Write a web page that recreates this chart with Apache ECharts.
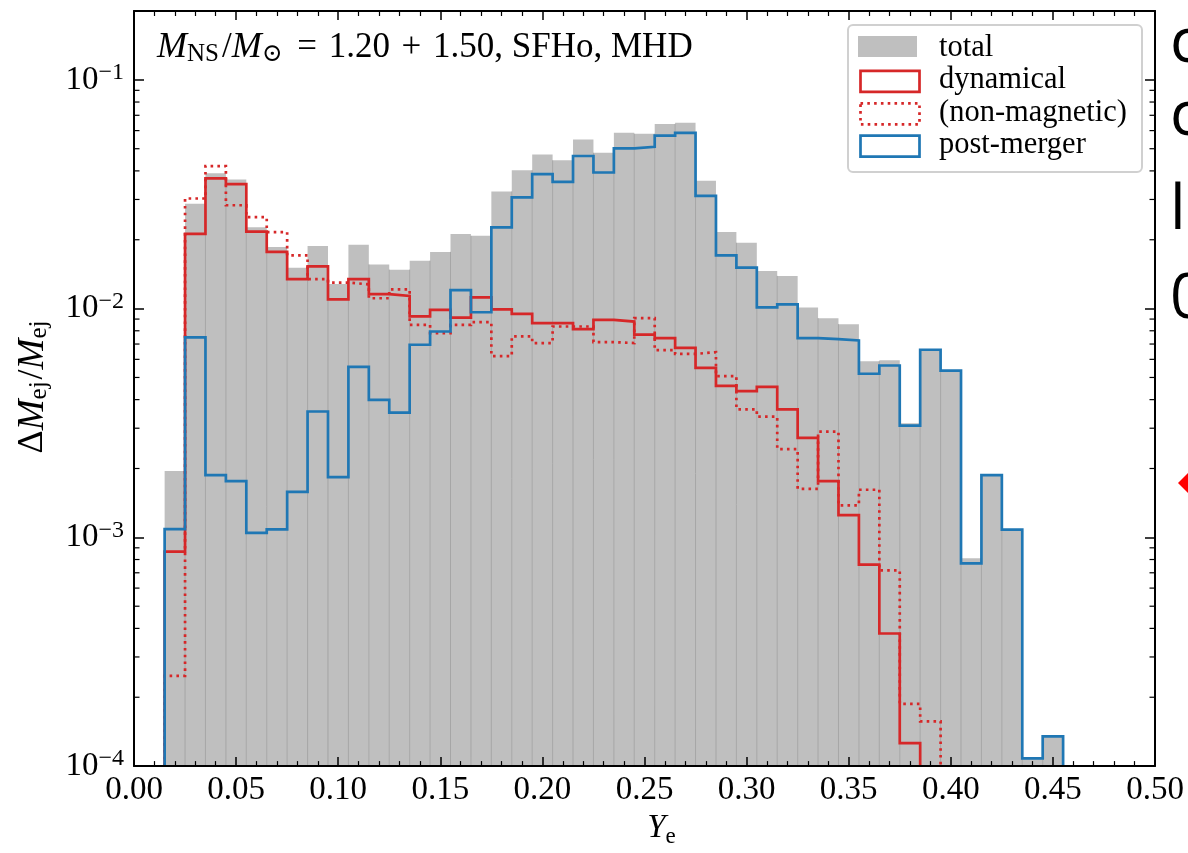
<!DOCTYPE html>
<html>
<head>
<meta charset="utf-8">
<script src="https://cdn.jsdelivr.net/npm/echarts@6/dist/echarts.min.js"></script>
<style>html,body{margin:0;padding:0;background:#fff}#c{width:1188px;height:853px}</style>
</head>
<body>
<div id="c"></div>
<script>
// ---------------- data ----------------
const binCenters = [0.02,0.03,0.04,0.05,0.06,0.07,0.08,0.09,0.10,0.11,0.12,0.13,0.14,0.15,0.16,0.17,0.18,0.19,0.20,0.21,0.22,0.23,0.24,0.25,0.26,0.27,0.28,0.29,0.30,0.31,0.32,0.33,0.34,0.35,0.36,0.37,0.38,0.39,0.40,0.41,0.42,0.43,0.44,0.45];
const binWidth = 0.01;
const total = [0.00195,0.0287,0.0391,0.0367,0.0227,0.0186,0.0151,0.0188,0.0128,0.0190,0.0156,0.0148,0.0162,0.0177,0.0212,0.0208,0.0325,0.0403,0.0472,0.0445,0.0549,0.0480,0.0587,0.0581,0.0642,0.0649,0.0362,0.0216,0.0194,0.0146,0.0139,0.0101,0.00908,0.00855,0.00589,0.00595,0.00315,0.00661,0.00536,0.00081,0.00187,0.00108,0.000108,0.000135];
const dynamical = [0.000867,0.0212,0.0371,0.0350,0.0217,0.0177,0.01346,0.01531,0.01098,0.01346,0.01158,0.01135,0.00924,0.00987,0.00914,0.0112,0.00993,0.00948,0.00864,0.00864,0.00813,0.00893,0.00878,0.00769,0.00743,0.00673,0.00551,0.00459,0.00436,0.00455,0.00363,0.00272,0.00176,0.00125,0.00076,0.00038,0.000126,0,0,0,0,0,0,0];
const nonMagnetic = [0.000248,0.0303,0.0420,0.0283,0.0251,0.0216,0.0171,0.01346,0.0130,0.01276,0.0111,0.01213,0.00849,0.00782,0.00849,0.00872,0.00620,0.00756,0.00707,0.00835,0.00835,0.00714,0.00707,0.00908,0.00658,0.00634,0.00645,0.00507,0.00363,0.00337,0.00243,0.00163,0.00290,0.00138,0.001615,0.000717,0.000187,0.000157,0,0,0,0,0,0];
const postMerger = [0.001087,0.00748,0.00187,0.00176,0.001047,0.001083,0.00158,0.00355,0.001835,0.00556,0.00399,0.00351,0.00695,0.00794,0.01205,0.00964,0.02263,0.03065,0.0387,0.0358,0.04646,0.03935,0.0502,0.0510,0.0571,0.0587,0.0311,0.0171,0.0151,0.01013,0.01044,0.00743,0.00736,0.00726,0.00519,0.00564,0.00308,0.00661,0.00536,0.00077,0.00187,0.00108,0.000108,0.000135];
const yMinorTicks = [2e-4,3e-4,4e-4,5e-4,6e-4,7e-4,8e-4,9e-4,2e-3,3e-3,4e-3,5e-3,6e-3,7e-3,8e-3,9e-3,2e-2,3e-2,4e-2,5e-2,6e-2,7e-2,8e-2,9e-2];
const legendLabels = ['total','dynamical','(non-magnetic)','post-merger'];
const xAxisTitle = ['Y','e'];
const yAxisTitle = ['Δ','M','ej','/','M','ej'];
const annotation = ['M','NS','/','M','⊙','\u2004=\u20041.20\u2004+\u20041.50, SFHo, MHD'];
const sideGlyphs = ['c','c','l','0'];

// ---------------- style ----------------
const Y_MIN = 1e-4, Y_MAX = 0.2;
const FONT = "'Liberation Serif', 'DejaVu Serif', serif";
const GRAY = '#bfbfbf', RED = '#d62728', BLUE = '#1f77b4';
const DOT = [2.6, 4.2];
const LW = 2.7;

function stepPoints(vals) {
  let last = vals.length - 1;
  while (last >= 0 && !(vals[last] > 0)) last--;
  const pts = [[binCenters[0] - binWidth / 2, Y_MIN]];
  for (let i = 0; i <= last; i++) {
    pts.push([binCenters[i] - binWidth / 2, vals[i] > 0 ? vals[i] : Y_MIN]);
  }
  const endX = binCenters[last] + binWidth / 2;
  pts.push([endX, vals[last]]);
  pts.push([endX, Y_MIN]);
  return pts;
}

const chart = echarts.init(document.getElementById('c'));

const axisCommon = {
  axisLine: { show: true, onZero: false, lineStyle: { color: '#000', width: 2 } },
  splitLine: { show: false },
  z: 10
};
const xCommon = Object.assign({}, axisCommon, {
  type: 'value', min: 0, max: 0.5, interval: 0.05,
  axisTick: { show: true, inside: true, length: 9, lineStyle: { color: '#000', width: 1.5 } },
  minorTick: { show: true, splitNumber: 5, length: 5, lineStyle: { color: '#000', width: 1.2 } }
});
const yCommon = Object.assign({}, axisCommon, {
  type: 'log', logBase: 10, min: Y_MIN, max: Y_MAX,
  axisTick: { show: true, inside: true, length: 10, lineStyle: { color: '#000', width: 1.5 } },
  minorTick: { show: false }
});

const legendGraphics = [];
legendGraphics.push({
  type: 'rect', left: 847, top: 24, z: 50,
  shape: { width: 294, height: 147, r: 5 },
  style: { fill: '#fff', stroke: '#d0d0d0', lineWidth: 2 }
});
const legendStyles = [
  { fill: GRAY, stroke: null },
  { fill: 'none', stroke: RED, lineWidth: LW },
  { fill: 'none', stroke: RED, lineWidth: LW, lineDash: DOT },
  { fill: 'none', stroke: BLUE, lineWidth: LW }
];
legendLabels.forEach((lab, i) => {
  const top = 36 + i * 32.4;
  legendGraphics.push({
    type: 'rect', left: 858, top: top, z: 51,
    shape: { width: 59, height: 21 },
    style: legendStyles[i]
  });
  legendGraphics.push({
    type: 'text', x: 939, y: top + 12, z: 51,
    style: { text: lab, font: '30.5px ' + FONT, fill: '#000', textVerticalAlign: 'middle', textAlign: 'left' }
  });
});

const sideTops = [13, 86, 180, 269];
const sideGraphics = sideGlyphs.map((g, i) => ({
  type: 'text', x: 1170, y: sideTops[i], z: 60,
  style: { text: g, font: "62px 'Open Sans', 'DejaVu Sans', sans-serif", fill: '#000', textVerticalAlign: 'top' }
}));
sideGraphics.push({
  type: 'polygon', z: 60,
  shape: { points: [[1178, 483], [1189, 472], [1200, 483], [1189, 494]] },
  style: { fill: '#ff0000' }
});

const yTitleGraphic = {
  type: 'text', x: 33, y: 386, rotation: Math.PI / 2, z: 40,
  style: {
    text: yAxisTitle.map((t, i) => (i === 1 || i === 4 ? '{m|' : (i === 2 || i === 5 ? '{s|' : '{n|')) + t + '}').join(''),
    textAlign: 'center', textVerticalAlign: 'middle',
    rich: {
      n: { fontFamily: FONT, fontSize: 36, fill: '#000' },
      m: { fontFamily: FONT, fontSize: 37, fontStyle: 'italic', fill: '#000' },
      s: { fontFamily: FONT, fontSize: 25, fill: '#000', padding: [13, 2, 0, 0] }
    }
  }
};

const option = {
  animation: false,
  backgroundColor: '#fff',
  grid: { left: 134, right: 33, top: 11, bottom: 82, containLabel: false },
  xAxis: [
    Object.assign({}, xCommon, {
      position: 'bottom',
      axisLabel: { show: true, margin: 8, color: '#000', fontFamily: FONT, fontSize: 33, formatter: v => v.toFixed(2) },
      name: '{m|' + xAxisTitle[0] + '}{s|' + xAxisTitle[1] + '}',
      nameLocation: 'middle', nameGap: 36,
      nameTextStyle: {
        padding: [0, 0, 0, 34],
        rich: {
          m: { fontFamily: FONT, fontSize: 33, fontStyle: 'italic', color: '#000' },
          s: { fontFamily: FONT, fontSize: 23, color: '#000', padding: [16, 0, 0, 0] }
        }
      }
    }),
    Object.assign({}, xCommon, { position: 'top', axisLabel: { show: false } })
  ],
  yAxis: [
    Object.assign({}, yCommon, {
      position: 'left',
      axisLabel: {
        show: true, margin: 10, showMaxLabel: false,
        formatter: v => {
          const l = Math.log10(v), k = Math.round(l);
          if (Math.abs(l - k) > 1e-6) return '';
          return '{b|10}{s|−' + (-k) + '}';
        },
        rich: {
          b: { fontFamily: FONT, fontSize: 33, color: '#000' },
          s: { fontFamily: FONT, fontSize: 24, color: '#000', padding: [0, 0, 14, 0] }
        }
      }
    }),
    Object.assign({}, yCommon, { position: 'right', axisLabel: { show: false } })
  ],
  series: [
    {
      type: 'custom', name: 'total', xAxisIndex: 0, yAxisIndex: 0, z: 2,
      data: binCenters.map((c, i) => [c, total[i]]),
      renderItem: function (params, api) {
        const c = api.value(0), v = api.value(1);
        const p0 = api.coord([c - binWidth / 2, v]);
        const p1 = api.coord([c + binWidth / 2, Y_MIN]);
        const children = [{
          type: 'rect',
          shape: { x: p0[0], y: p0[1], width: p1[0] - p0[0], height: p1[1] - p0[1] },
          style: { fill: GRAY }
        }];
        const i = params.dataIndex;
        if (i > 0) {
          const q = api.coord([c - binWidth / 2, Math.min(v, total[i - 1])]);
          children.push({
            type: 'line',
            shape: { x1: q[0], y1: q[1], x2: q[0], y2: p1[1] },
            style: { stroke: '#a2a2a2', lineWidth: 0.9 }
          });
        }
        return { type: 'group', children: children };
      }
    },
    {
      type: 'line', name: 'dynamical', step: 'end', symbol: 'none', z: 3,
      data: stepPoints(dynamical),
      lineStyle: { color: RED, width: LW, cap: 'butt', join: 'miter' }
    },
    {
      type: 'line', name: '(non-magnetic)', step: 'end', symbol: 'none', z: 3,
      data: stepPoints(nonMagnetic),
      lineStyle: { color: RED, width: LW, type: DOT, cap: 'butt', join: 'miter' }
    },
    {
      type: 'line', name: 'post-merger', step: 'end', symbol: 'none', z: 4,
      data: stepPoints(postMerger),
      lineStyle: { color: BLUE, width: LW, cap: 'butt', join: 'miter' }
    },
    {
      type: 'custom', name: 'yMinor', silent: true, z: 20, clip: false,
      data: yMinorTicks.map(v => [0, v]),
      renderItem: function (params, api) {
        const v = api.value(1);
        const pl = api.coord([0, v]);
        const pr = api.coord([0.5, v]);
        const st = { stroke: '#000', lineWidth: 1.2 };
        return {
          type: 'group', children: [
            { type: 'line', shape: { x1: pl[0], y1: pl[1], x2: pl[0] + 5.5, y2: pl[1] }, style: st },
            { type: 'line', shape: { x1: pr[0] - 5.5, y1: pr[1], x2: pr[0], y2: pr[1] }, style: st }
          ]
        };
      }
    }
  ],
  graphic: [
    {
      type: 'text', x: 157, y: 48, z: 40,
      style: {
        text: annotation.map((t, i) => (i === 0 || i === 3 ? '{m|' : (i === 1 || i === 4 ? '{s|' : '{n|')) + t + '}').join(''),
        textVerticalAlign: 'middle', textAlign: 'left',
        rich: {
          m: { fontFamily: FONT, fontSize: 36, fontStyle: 'italic', fill: '#000' },
          s: { fontFamily: FONT, fontSize: 25, fill: '#000', padding: [13, 3, 0, 0] },
          n: { fontFamily: FONT, fontSize: 35, fill: '#000' }
        }
      }
    },
    yTitleGraphic
  ].concat(legendGraphics, sideGraphics)
};
chart.setOption(option);
</script>
</body>
</html>
